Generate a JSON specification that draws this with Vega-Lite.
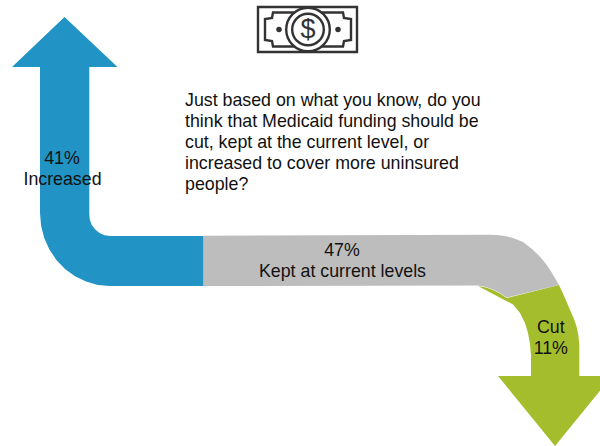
{
  "$schema": "https://vega.github.io/schema/vega-lite/v6.json",
  "width": 600,
  "height": 446,
  "padding": 0,
  "autosize": {"type": "fit", "contains": "padding"},
  "background": "white",
  "config": {"view": {"stroke": null}},
  "datasets": {
    "ribbons": [
      {"part": "Cut", "i": 1, "x": 478, "y": 286},
      {"part": "Cut", "i": 2, "x": 486, "y": 287.5},
      {"part": "Cut", "i": 3, "x": 493, "y": 290},
      {"part": "Cut", "i": 4, "x": 500, "y": 293.5},
      {"part": "Cut", "i": 5, "x": 506.5, "y": 298},
      {"part": "Cut", "i": 6, "x": 559, "y": 285},
      {"part": "Cut", "i": 7, "x": 565, "y": 298},
      {"part": "Cut", "i": 8, "x": 570, "y": 310},
      {"part": "Cut", "i": 9, "x": 574, "y": 319},
      {"part": "Cut", "i": 10, "x": 576.7, "y": 327},
      {"part": "Cut", "i": 11, "x": 578.5, "y": 336},
      {"part": "Cut", "i": 12, "x": 579.3, "y": 345},
      {"part": "Cut", "i": 13, "x": 579.3, "y": 376},
      {"part": "Cut", "i": 14, "x": 612, "y": 376},
      {"part": "Cut", "i": 15, "x": 555, "y": 446},
      {"part": "Cut", "i": 16, "x": 498, "y": 376},
      {"part": "Cut", "i": 17, "x": 531, "y": 376},
      {"part": "Cut", "i": 18, "x": 531, "y": 356},
      {"part": "Cut", "i": 19, "x": 530, "y": 344},
      {"part": "Cut", "i": 20, "x": 528, "y": 333},
      {"part": "Cut", "i": 21, "x": 525, "y": 323},
      {"part": "Cut", "i": 22, "x": 520, "y": 313},
      {"part": "Cut", "i": 23, "x": 513, "y": 304.5},
      {"part": "Kept", "i": 1, "x": 203.3, "y": 235.7},
      {"part": "Kept", "i": 2, "x": 490, "y": 234.8},
      {"part": "Kept", "i": 3, "x": 497, "y": 234.9},
      {"part": "Kept", "i": 4, "x": 505, "y": 236},
      {"part": "Kept", "i": 5, "x": 513, "y": 238},
      {"part": "Kept", "i": 6, "x": 523, "y": 242},
      {"part": "Kept", "i": 7, "x": 532, "y": 249},
      {"part": "Kept", "i": 8, "x": 540, "y": 256.7},
      {"part": "Kept", "i": 9, "x": 546, "y": 264},
      {"part": "Kept", "i": 10, "x": 551.7, "y": 272.5},
      {"part": "Kept", "i": 11, "x": 559, "y": 285},
      {"part": "Kept", "i": 12, "x": 506.5, "y": 297.6},
      {"part": "Kept", "i": 13, "x": 500, "y": 293},
      {"part": "Kept", "i": 14, "x": 493, "y": 289.5},
      {"part": "Kept", "i": 15, "x": 486, "y": 287},
      {"part": "Kept", "i": 16, "x": 478, "y": 285.5},
      {"part": "Kept", "i": 17, "x": 203.3, "y": 286},
      {"part": "Increased", "i": 1, "x": 64.5, "y": 17},
      {"part": "Increased", "i": 2, "x": 117.5, "y": 67},
      {"part": "Increased", "i": 3, "x": 89.3, "y": 67},
      {"part": "Increased", "i": 4, "x": 89.3, "y": 214},
      {"part": "Increased", "i": 5, "x": 89.8, "y": 219.7},
      {"part": "Increased", "i": 6, "x": 91.8, "y": 225},
      {"part": "Increased", "i": 7, "x": 95.2, "y": 229.6},
      {"part": "Increased", "i": 8, "x": 99.5, "y": 233.1},
      {"part": "Increased", "i": 9, "x": 104.6, "y": 235.2},
      {"part": "Increased", "i": 10, "x": 110, "y": 236},
      {"part": "Increased", "i": 11, "x": 203.3, "y": 236},
      {"part": "Increased", "i": 12, "x": 203.3, "y": 286},
      {"part": "Increased", "i": 13, "x": 110, "y": 286},
      {"part": "Increased", "i": 14, "x": 97.8, "y": 284.9},
      {"part": "Increased", "i": 15, "x": 86.1, "y": 281.6},
      {"part": "Increased", "i": 16, "x": 75, "y": 276.2},
      {"part": "Increased", "i": 17, "x": 65, "y": 268.9},
      {"part": "Increased", "i": 18, "x": 56.4, "y": 259.9},
      {"part": "Increased", "i": 19, "x": 49.4, "y": 249.5},
      {"part": "Increased", "i": 20, "x": 44.2, "y": 238},
      {"part": "Increased", "i": 21, "x": 41.1, "y": 225.7},
      {"part": "Increased", "i": 22, "x": 40, "y": 213},
      {"part": "Increased", "i": 23, "x": 40, "y": 67},
      {"part": "Increased", "i": 24, "x": 12, "y": 67}
    ],
    "bill": [
      {"path": "frame", "i": 1, "x": 258, "y": 7},
      {"path": "frame", "i": 2, "x": 357, "y": 7},
      {"path": "frame", "i": 3, "x": 357, "y": 52},
      {"path": "frame", "i": 4, "x": 258, "y": 52},
      {"path": "panel", "i": 1, "x": 273, "y": 12.5},
      {"path": "panel", "i": 2, "x": 343, "y": 12.5},
      {"path": "panel", "i": 3, "x": 344, "y": 18},
      {"path": "panel", "i": 4, "x": 351, "y": 19},
      {"path": "panel", "i": 5, "x": 351, "y": 40},
      {"path": "panel", "i": 6, "x": 344, "y": 41},
      {"path": "panel", "i": 7, "x": 343, "y": 46.5},
      {"path": "panel", "i": 8, "x": 273, "y": 46.5},
      {"path": "panel", "i": 9, "x": 272, "y": 41},
      {"path": "panel", "i": 10, "x": 265, "y": 40},
      {"path": "panel", "i": 11, "x": 265, "y": 19},
      {"path": "panel", "i": 12, "x": 272, "y": 18}
    ],
    "labels": [
      {"kind": "value", "text": "41%", "x": 62, "y": 163.5},
      {"kind": "value", "text": "Increased", "x": 62.5, "y": 184.5},
      {"kind": "value", "text": "47%", "x": 342, "y": 256},
      {"kind": "value", "text": "Kept at current levels", "x": 342.5, "y": 277.3},
      {"kind": "value", "text": "Cut", "x": 550.8, "y": 332.7},
      {"kind": "value", "text": "11%", "x": 550.8, "y": 353.5},
      {"kind": "question", "text": "Just based on what you know, do you", "x": 185, "y": 106},
      {"kind": "question", "text": "think that Medicaid funding should be", "x": 185, "y": 127},
      {"kind": "question", "text": "cut, kept at the current level, or", "x": 185, "y": 148},
      {"kind": "question", "text": "increased to cover more uninsured", "x": 185, "y": 169},
      {"kind": "question", "text": "people?", "x": 185, "y": 190}
    ]
  },
  "encoding": {
    "x": {"field": "x", "type": "quantitative", "axis": null, "scale": {"domain": [0, 600], "nice": false, "zero": false}},
    "y": {"field": "y", "type": "quantitative", "axis": null, "scale": {"domain": [446, 0], "nice": false, "zero": false}}
  },
  "layer": [
    {
      "data": {"name": "ribbons"},
      "mark": {"type": "line", "interpolate": "linear-closed", "strokeWidth": 0, "clip": true},
      "encoding": {
        "order": {"field": "i", "type": "quantitative"},
        "fill": {
          "field": "part",
          "type": "nominal",
          "legend": null,
          "scale": {"domain": ["Increased", "Kept", "Cut"], "range": ["#2193c4", "#bdbdbd", "#a4bd2c"]}
        }
      }
    },
    {
      "data": {"name": "bill"},
      "mark": {"type": "line", "interpolate": "linear-closed", "stroke": "#333333", "strokeWidth": 2.4, "fill": "white"},
      "encoding": {
        "order": {"field": "i", "type": "quantitative"},
        "detail": {"field": "path", "type": "nominal"}
      }
    },
    {
      "data": {"values": [{"x": 308, "y": 29.5}]},
      "mark": {"type": "point", "filled": false, "fill": "white", "fillOpacity": 1, "stroke": "#333333", "strokeWidth": 2.4, "opacity": 1, "size": 1900}
    },
    {
      "data": {"values": [{"x": 308, "y": 29.5}]},
      "mark": {"type": "point", "filled": false, "stroke": "#333333", "strokeWidth": 2.4, "opacity": 1, "size": 1000}
    },
    {
      "data": {"values": [{"x": 279, "y": 29.5}, {"x": 338, "y": 29.5}]},
      "mark": {"type": "point", "filled": true, "color": "#333333", "opacity": 1, "size": 30}
    },
    {
      "data": {"values": [{"text": "$", "x": 308, "y": 30}]},
      "mark": {"type": "text", "font": "Liberation Sans", "fontSize": 27, "color": "#333333", "align": "center", "baseline": "middle"},
      "encoding": {"text": {"field": "text"}}
    },
    {
      "data": {"name": "labels"},
      "transform": [{"filter": "datum.kind === 'value'"}],
      "mark": {"type": "text", "font": "Liberation Sans", "fontSize": 17.8, "color": "#111111", "align": "center", "baseline": "alphabetic"},
      "encoding": {"text": {"field": "text"}}
    },
    {
      "data": {"name": "labels"},
      "transform": [{"filter": "datum.kind === 'question'"}],
      "mark": {"type": "text", "font": "Liberation Sans", "fontSize": 17.8, "color": "#111111", "align": "left", "baseline": "alphabetic"},
      "encoding": {"text": {"field": "text"}}
    }
  ]
}
